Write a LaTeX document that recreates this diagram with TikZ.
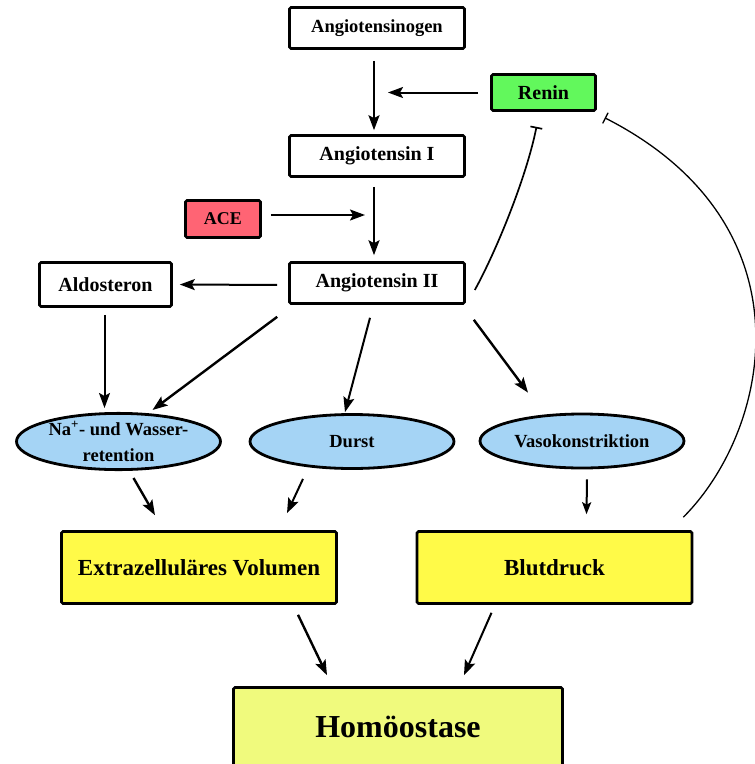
\documentclass[tikz,border=0pt]{standalone}
\usepackage{fontspec}
\setmainfont{Liberation Serif}
\usetikzlibrary{positioning,calc,shapes.geometric,arrows.meta}

\definecolor{reningreen}{RGB}{98,248,92}
\definecolor{acered}{RGB}{255,100,116}
\definecolor{ellblue}{RGB}{165,212,245}
\definecolor{boxyellow}{RGB}{255,250,72}
\definecolor{homoyellow}{RGB}{240,250,125}

\begin{document}
\begin{tikzpicture}[x=1pt, y=-1pt,
                boxnode/.style={rectangle, draw, line width=2.6pt, rounded corners=1.5pt, inner sep=0pt},
                plainnode/.style={boxnode, fill=white, minimum width=175pt, minimum height=41pt, font=\fontsize{20}{24}\selectfont\bfseries},
                ellnode/.style={ellipse, draw, line width=2.8pt, fill=ellblue, inner sep=0pt, minimum width=204pt, minimum height=54pt, align=center, font=\fontsize{18.5}{26}\selectfont\bfseries},
                bignode/.style={boxnode, fill=boxyellow, minimum width=275pt, minimum height=72pt, font=\fontsize{23}{27}\selectfont\bfseries},
                arr/.style={-{Stealth[length=15pt, width=11pt, inset=3pt]}, line width=2pt},
                thickarr/.style={arr, line width=2.4pt},
                inhib/.style={-{Bar[width=12pt]}},
            ]

            \clip (0, 0) rectangle (755, 764);

            % cascade
            \node[plainnode, font=\fontsize{18.5}{22}\selectfont\bfseries] (ogen) at (377, 28) {Angiotensinogen};
            \node[plainnode] (ang1) at (377, 156) {Angiotensin I};
            \node[plainnode] (ang2) at (377, 283) {Angiotensin II};

            % enzymes
            \node[boxnode, fill=reningreen, minimum width=104pt, minimum height=36pt, font=\fontsize{20}{24}\selectfont\bfseries] (renin) at (543.5, 92.5) {Renin};
            \node[boxnode, fill=acered, minimum width=75pt, minimum height=37pt, font=\fontsize{18}{22}\selectfont\bfseries] (ace) at (223, 219) {ACE};
            \node[boxnode, fill=white, minimum width=132pt, minimum height=44pt, font=\fontsize{20}{24}\selectfont\bfseries] (aldo) at (105.5, 284.5) {Aldosteron};

            % effects
            \node[ellnode] (na) at (118.5, 441.5) {Na\textsuperscript{+}- und Wasser-\\retention};
            \node[ellnode] (durst) at (352, 441.5) {Durst};
            \node[ellnode] (vaso) at (582, 441) {Vasokonstriktion};

            \node[bignode] (extra) at (199, 567.5) {Extrazelluläres Volumen};
            \node[bignode] (blut) at (554.5, 567.5) {Blutdruck};

            \node[boxnode, fill=homoyellow, minimum width=329pt, minimum height=79pt, font=\fontsize{32}{36}\selectfont\bfseries] (homo) at (398, 727) {Homöostase};

            % arrows of the cascade
            \draw[arr, shorten <=11pt, shorten >=4pt] ([xshift=-3pt]ogen.south) -- ([xshift=-3pt]ang1.north);
            \draw[arr, shorten <=9pt, shorten >=6pt] ([xshift=-3pt]ang1.south) -- ([xshift=-3pt]ang2.north);
            \draw[arr, shorten <=12pt, shorten >=11pt] (renin.west) -- (renin.west -| ang1.north);
            \draw[arr, shorten <=9pt, shorten >=12pt] ([yshift=4pt]ace.east) -- ([yshift=4pt]ace.east -| ang2.north);
            \draw[arr, shorten <=11pt, shorten >=7pt] ([yshift=-2pt]ang2.west) -- (aldo.east);

            % arrows to the effects
            \draw[arr, shorten <=7pt, shorten >=4pt] ([xshift=-1pt]aldo.south) -- ([xshift=-1pt]aldo.south |- na.north);
            \draw[thickarr] ($ (ang2.south west) + (-11, 12) $) -- ($ (na.north) + (34, -2) $);
            \draw[arr] ($ (ang2.south) + (-7, 13) $) -- ($ (durst.north) + (-7, -1) $);
            \draw[thickarr] ($ (ang2.south east) + (8, 15) $) -- ($ (vaso.north) + (-54, -20) $);

            \draw[thickarr] ($ (na.south) + (15, 7) $) -- ($ (extra.north) + (-44, -15) $);
            \draw[arr] ($ (durst.south) + (-49, 9) $) -- ($ (extra.north) + (88, -17) $);
            \draw[arr, -{Stealth[length=12pt, width=9pt, inset=2.5pt]}] ($ (vaso.south) + (5, 10) $) -- ($ (blut.north) + (32, -16) $);

            \draw[thickarr] ($ (extra.south) + (99, 10) $) -- ($ (homo.north) + (-71, -11) $);
            \draw[arr] ($ (blut.south) + (-63, 8) $) -- ($ (homo.north) + (66, -11) $);

            % feedback on renin
            \draw[inhib, line width=1.7pt] ($ (ang2.east) + (9, 7) $) .. controls +(22, -40) and +(-10, 50) .. ($ (renin.south) + (-7, 15) $);
            \draw[inhib, line width=1.3pt] ($ (blut.north east) + (-10, -13) $) .. controls +(87, -87) and +(210, 107) .. ($ (renin.south east) + (8, 6) $);
        \end{tikzpicture}
\end{document}
